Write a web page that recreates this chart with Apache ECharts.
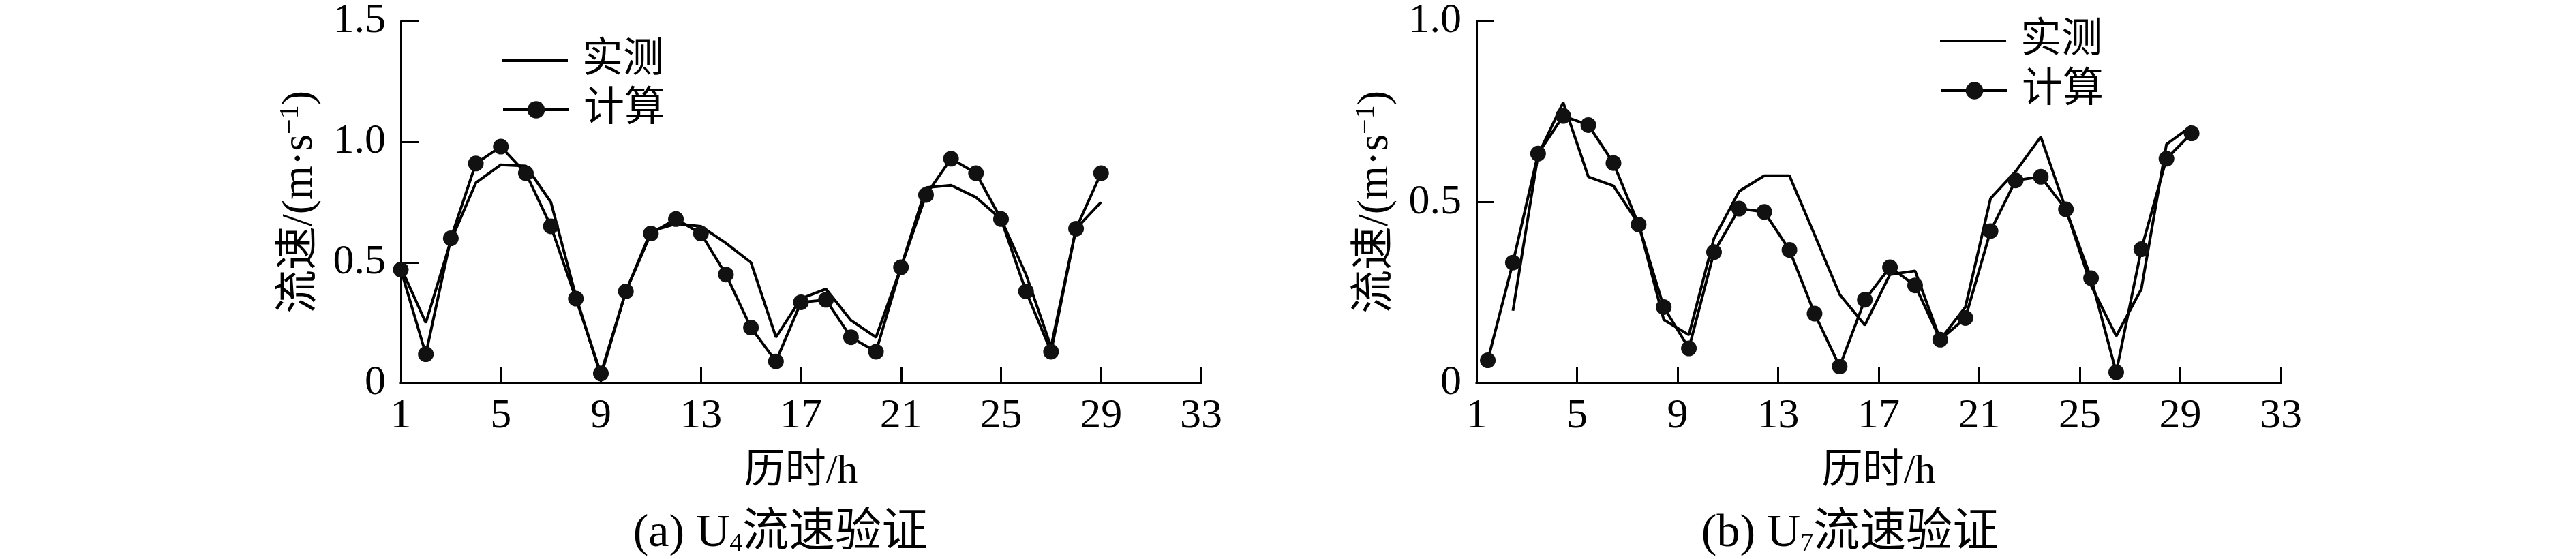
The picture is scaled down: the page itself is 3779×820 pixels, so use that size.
<!DOCTYPE html>
<html>
<head>
<meta charset="utf-8">
<script src="https://cdn.jsdelivr.net/npm/echarts@6/dist/echarts.min.js"></script>
<style>
html,body{margin:0;padding:0;background:#fff;}
#c{width:3779px;height:820px;}
</style>
</head>
<body>
<div id="c"></div>
<script>
// ---- data ----
const xTicks = [1, 5, 9, 13, 17, 21, 25, 29, 33];
const yTicksA = [0, 0.5, 1.0, 1.5];
const yTicksB = [0, 0.5, 1.0];

// (a) U4
const hoursA = [1,2,3,4,5,6,7,8,9,10,11,12,13,14,15,16,17,18,19,20,21,22,23,24,25,26,27,28,29];
const measuredA = [0.48,0.25,0.59,0.83,0.905,0.90,0.75,0.36,0.03,0.38,0.63,0.66,0.65,0.58,0.50,0.19,0.35,0.39,0.26,0.19,0.48,0.81,0.82,0.77,0.68,0.45,0.15,0.64,0.75];
const computedA = [0.47,0.12,0.60,0.91,0.98,0.87,0.65,0.35,0.04,0.38,0.62,0.68,0.62,0.45,0.23,0.09,0.335,0.345,0.19,0.13,0.48,0.78,0.93,0.87,0.68,0.38,0.13,0.64,0.87];

// (b) U7
const hoursB_computed = [1.45,2.45,3.45,4.45,5.45,6.45,7.45,8.45,9.45,10.45,11.45,12.45,13.45,14.45,15.45,16.45,17.45,18.45,19.45,20.45,21.45,22.45,23.45,24.45,25.45,26.45,27.45,28.45,29.45];
const computedB = [0.063,0.333,0.634,0.738,0.713,0.608,0.438,0.21,0.096,0.362,0.482,0.473,0.368,0.192,0.046,0.23,0.32,0.27,0.12,0.18,0.42,0.56,0.57,0.48,0.29,0.03,0.37,0.62,0.69];
const hoursB_measured = [2.45,3.45,4.45,5.45,6.45,7.45,8.45,9.45,10.45,11.45,12.45,13.45,14.45,15.45,16.45,17.45,18.45,19.45,20.45,21.45,22.45,23.45,24.45,25.45,26.45,27.45,28.45,29.45];
const measuredB = [0.20,0.63,0.775,0.57,0.545,0.44,0.175,0.133,0.40,0.53,0.573,0.573,0.41,0.245,0.16,0.30,0.31,0.12,0.21,0.51,0.585,0.68,0.48,0.27,0.13,0.26,0.66,0.71];

const seriesNames = ['实测', '计算'];
const xName = '历时/h';
const yName = '流速/(m·s{sup|−1})';
const subTitles = ['(a) U{sub|4}流速验证', '(b) U{sub|7}流速验证'];

// ---- helpers ----
const FONT = "'Liberation Serif','Times New Roman','Noto Sans CJK SC',serif";
const pairs = (xs, ys) => xs.map((x, i) => [x, ys[i]]);
const fmtY = v => (v === 0 ? '0' : v.toFixed(1));

function xAxisCfg(gridIndex) {
  return {
    type: 'value', gridIndex, min: 1, max: 33,
    name: xName, nameLocation: 'middle', nameGap: 100,
    nameTextStyle: { fontFamily: FONT, fontSize: 60, color: '#000' },
    axisLine: { show: true, lineStyle: { color: '#000', width: 3.5 } },
    axisTick: { show: true, inside: true, length: 23, lineStyle: { color: '#000', width: 3 }, customValues: xTicks },
    axisLabel: { show: true, margin: 18, fontFamily: FONT, fontSize: 62, color: '#000', customValues: xTicks },
    splitLine: { show: false }
  };
}
function yAxisCfg(gridIndex, max, ticks) {
  return {
    type: 'value', gridIndex, min: 0, max: max, interval: 0.5,
    name: yName, nameLocation: 'middle', nameGap: 114, nameRotate: 90,
    nameTextStyle: { fontFamily: FONT, fontSize: 64, color: '#000',
      rich: { sup: { fontFamily: FONT, fontSize: 40, color: '#000', verticalAlign: 'top', padding: [0, 0, 28, 0] } } },
    axisLine: { show: true, lineStyle: { color: '#000', width: 3 } },
    axisTick: { show: true, inside: true, length: 26, lineStyle: { color: '#000', width: 3 }, customValues: ticks },
    axisLabel: { show: true, margin: 22, fontFamily: FONT, fontSize: 62, color: '#000', formatter: fmtY, customValues: ticks },
    splitLine: { show: false }
  };
}
function measuredSeries(idx, data) {
  return { name: seriesNames[0], type: 'line', xAxisIndex: idx, yAxisIndex: idx, data, symbol: 'none',
    lineStyle: { color: '#000', width: 4 }, itemStyle: { color: '#000' }, z: 2, animation: false };
}
function computedSeries(idx, data) {
  return { name: seriesNames[1], type: 'line', xAxisIndex: idx, yAxisIndex: idx, data, symbol: 'circle', symbolSize: 23,
    showAllSymbol: true, lineStyle: { color: '#000', width: 4 }, itemStyle: { color: '#111' }, z: 3, animation: false };
}
function legendCfg(item, left, centerY, h) {
  return { data: [item], left, top: centerY - h / 2, orient: 'vertical', itemWidth: 97, itemHeight: h,
    selectedMode: false, symbolKeepAspect: true, padding: 0,
    textStyle: { fontFamily: FONT, fontSize: 60, lineHeight: h, color: '#000', padding: [0, 0, 0, 16] } };
}
const lineIcon = 'path://M0,0 H100 V4 H0 Z';
const measuredLegendItem = { name: seriesNames[0], icon: lineIcon, itemStyle: { color: '#000', borderWidth: 0 } };
const computedLegendItem = { name: seriesNames[1], itemStyle: { color: '#111' }, lineStyle: { color: '#000', width: 4 } };
function subTitleGraphic(text, cx, cy) {
  return { type: 'text', x: cx, y: cy, silent: true,
    style: { text, align: 'center', verticalAlign: 'middle', fontFamily: FONT, fontSize: 68, fill: '#000',
      rich: { sub: { fontFamily: FONT, fontSize: 38, fill: '#000', verticalAlign: 'bottom', padding: [22, 0, 0, 0] } } } };
}

const chart = echarts.init(document.getElementById('c'), null, { renderer: 'canvas' });
chart.setOption({
  backgroundColor: '#fff',
  animation: false,
  grid: [
    { left: 588, top: 22, width: 1174, height: 540 },
    { left: 2166, top: 21, width: 1180, height: 541 }
  ],
  xAxis: [xAxisCfg(0), xAxisCfg(1)],
  yAxis: [yAxisCfg(0, 1.5, yTicksA), yAxisCfg(1, 1.0, yTicksB)],
  legend: [
    legendCfg(measuredLegendItem, 736, 71, 24),
    legendCfg(computedLegendItem, 736, 147, 32),
    legendCfg(measuredLegendItem, 2846, 42, 24),
    legendCfg(computedLegendItem, 2846, 119, 32)
  ],
  series: [
    measuredSeries(0, pairs(hoursA, measuredA)),
    computedSeries(0, pairs(hoursA, computedA)),
    measuredSeries(1, pairs(hoursB_measured, measuredB)),
    computedSeries(1, pairs(hoursB_computed, computedB))
  ],
  graphic: [
    subTitleGraphic(subTitles[0], 1145, 783),
    subTitleGraphic(subTitles[1], 2714, 783)
  ]
});
</script>
</body>
</html>
